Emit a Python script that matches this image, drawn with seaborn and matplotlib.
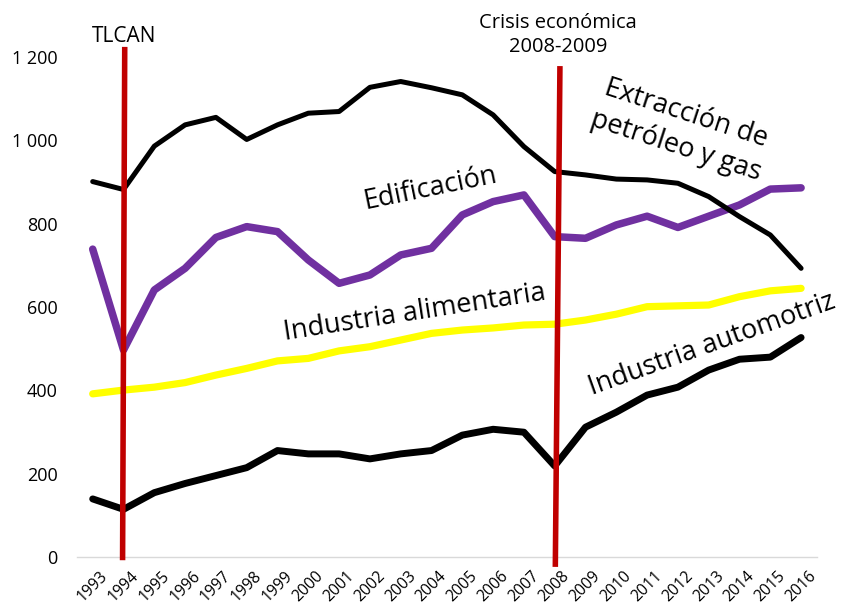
import matplotlib
matplotlib.use("Agg")
import matplotlib.pyplot as plt
import matplotlib.transforms as mtransforms
import numpy as np
import pandas as pd
import seaborn as sns

years = [str(y) for y in range(1993, 2017)]
petroleo = [901, 882, 986, 1037, 1055, 1002, 1037, 1065, 1069, 1127, 1141, 1126,
            1109, 1061, 985, 925, 917, 907, 905, 897, 865, 817, 773, 693]
edificacion = [739, 497, 641, 693, 767, 793, 781, 713, 657, 677, 725, 741,
               821, 853, 869, 769, 765, 797, 818, 791, 818, 845, 883, 886]
alimentaria = [392, 401, 408, 419, 437, 453, 471, 477, 495, 505, 521, 537,
               545, 550, 557, 559, 569, 583, 601, 603, 605, 625, 639, 645]
automotriz = [140, 115, 155, 177, 196, 215, 256, 248, 248, 236, 248, 256,
              293, 307, 300, 219, 312, 348, 389, 408, 449, 475, 480, 527]
yticks = [0, 200, 400, 600, 800, 1000, 1200]
ytick_labels = ["0", "200", "400", "600", "800", "1 000", "1 200"]
event_years = ["1994", "2008"]
event_labels = ["TLCAN", "Crisis económica\n2008-2009"]

df = pd.DataFrame({"year": years, "petroleo": petroleo, "edificacion": edificacion,
                   "alimentaria": alimentaria, "automotriz": automotriz})

sns.set_style("white")
plt.rcParams["font.family"] = ["Open Sans", "DejaVu Sans"]
plt.rcParams["text.color"] = "black"
plt.rcParams["xtick.color"] = "black"
plt.rcParams["ytick.color"] = "black"
plt.rcParams["xtick.labelcolor"] = "black"
plt.rcParams["ytick.labelcolor"] = "black"

W, H = 843, 608
fig = plt.figure(figsize=(W / 100, H / 100), dpi=100)
ax = fig.add_axes([77.3 / W, 1 - 557.3 / H, (816.5 - 77.3) / W, (557.3 - 56.9) / H])

kw = dict(sort=False, solid_capstyle="round", solid_joinstyle="round")
sns.lineplot(data=df, x="year", y="alimentaria", color="#FFFF00", linewidth=5.2, ax=ax, **kw)
sns.lineplot(data=df, x="year", y="automotriz", color="black", linewidth=5.0, ax=ax, **kw)
sns.lineplot(data=df, x="year", y="edificacion", color="#7030A0", linewidth=5.4, ax=ax, **kw)
sns.lineplot(data=df, x="year", y="petroleo", color="black", linewidth=3.6, ax=ax, **kw)

# event lines
xi0 = years.index(event_years[0])
xi1 = years.index(event_years[1])
ax.plot([xi0 + 0.04, xi0 - 0.03], [1224, -7], color="#C00000", lw=4.0,
        clip_on=False, zorder=5, solid_capstyle="butt")
ax.plot([xi1 + 0.17, xi1 + 0.02], [1178, -23], color="#C00000", lw=4.0,
        clip_on=False, zorder=5, solid_capstyle="butt")

ax.set_xlim(-0.5, len(years) - 0.5)
ax.set_ylim(0, 1200)
ax.set_yticks(yticks)
ax.set_yticklabels(ytick_labels, fontsize=13, color="black")
ax.set_xticks(range(len(years)))
ax.set_xticklabels(years, fontsize=11.3, color="black", rotation=45,
                   ha="right", va="top", rotation_mode="anchor")
ax.tick_params(axis="y", length=0, pad=14)
ax.tick_params(axis="x", length=0, pad=8)
offset = mtransforms.ScaledTranslation(7 / 100, 0, fig.dpi_scale_trans)
for lab in ax.get_xticklabels():
    lab.set_transform(lab.get_transform() + offset)
ax.set_xlabel("")
ax.set_ylabel("")
for s in ["left", "right", "top"]:
    ax.spines[s].set_visible(False)
ax.spines["bottom"].set_color("#D9D9D9")
ax.spines["bottom"].set_linewidth(1.0)
ax.grid(False)

# annotations
fig.text(124 / W, 1 - 37 / H, event_labels[0], fontsize=15, ha="center", va="center",
         color="black")
fig.text(558 / W, 1 - 35 / H, event_labels[1], fontsize=14.5, ha="center", va="center",
         linespacing=1.25, color="black")


def ptext(px, py, s, rot, **k):
    fig.text(px / W, 1 - py / H, s, fontsize=19.5, rotation=rot, ha="center",
             va="center", rotation_mode="anchor", color="black", **k)


ptext(430, 189, "Edificación", 11.6)
ptext(415, 313, "Industria alimentaria", 8.8)
ptext(712, 345, "Industria automotriz", 19.7)
ptext(681, 130, "Extracción de\npetróleo y gas", -18, linespacing=1.3, multialignment="center")

fig.savefig("out.png", dpi=100)
